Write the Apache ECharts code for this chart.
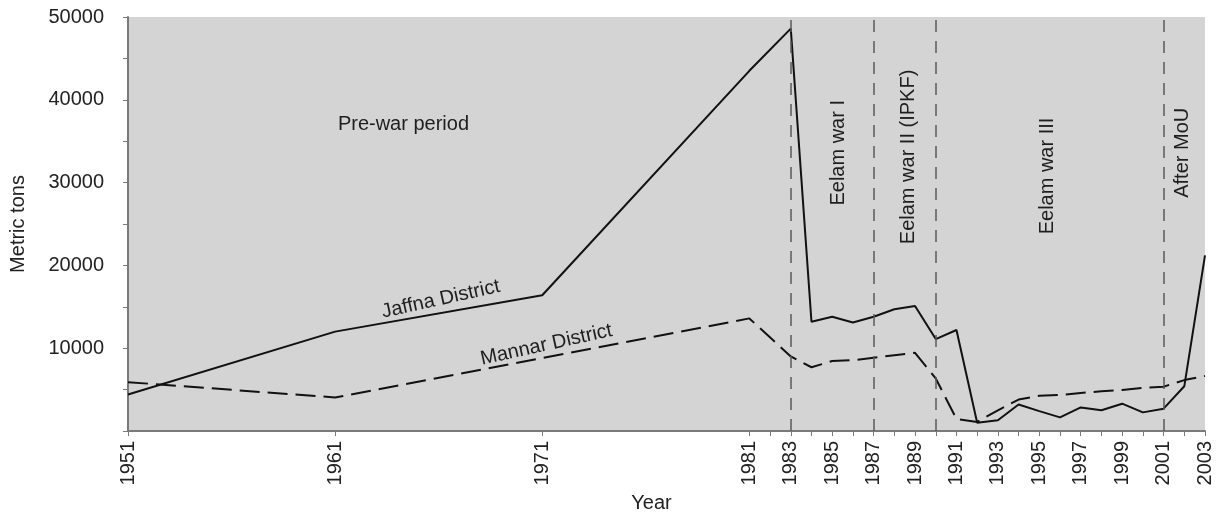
<!DOCTYPE html>
<html>
<head>
<meta charset="utf-8">
<script src="https://cdn.jsdelivr.net/npm/echarts@6/dist/echarts.min.js"></script>
<style>
  html, body { margin: 0; padding: 0; background: #fff; }
  #chart { width: 1223px; height: 512px; }
</style>
</head>
<body>
<div id="chart"></div>
<script>
// years with data
const years = [1951, 1961, 1971, 1981, 1983, 1984, 1985, 1986, 1987, 1988, 1989, 1990, 1991,
  1992, 1993, 1994, 1995, 1996, 1997, 1998, 1999, 2000, 2001, 2002, 2003]

// metric tons
const jaffna = [4400, 12000, 16400, 43500, 48600, 13200, 13800, 13100, 13800, 14700, 15100, 11100, 12200,
  1000, 1300, 3200, 2400, 1650, 2850, 2500, 3300, 2250, 2700, 5400, 21200]
const mannar = [5900, 4050, 8800, 13600, 9000, 7700, 8450, 8550, 8850, 9150, 9450, 6350, 1450,
  1100, 2500, 3800, 4250, 4350, 4600, 4800, 4950, 5200, 5350, 6150, 6650]

// x axis tick labels and tick marks
const yearLabels = [1951, 1961, 1971, 1981, 1983, 1985, 1987, 1989, 1991, 1993, 1995, 1997, 1999, 2001, 2003]
const yearTicks = [1951, 1961, 1971, 1981, 1982, 1983, 1984, 1985, 1986, 1987, 1988, 1989, 1990, 1991, 1992,
  1993, 1994, 1995, 1996, 1997, 1998, 1999, 2000, 2001, 2002, 2003]

// period boundaries (vertical dashed lines)
const boundaries = [1983, 1987, 1990, 2001]

// text notes: [year, value, text, rotation]
const periods = [
  [1964.3, 37000, 'Pre-war period', 0],
  [1985.3, 33600, 'Eelam war I', 90],
  [1988.7, 33100, 'Eelam war II (IPKF)', 90],
  [1995.4, 30800, 'Eelam war III', 90],
  [2001.9, 33600, 'After MoU', 90],
]
const seriesNotes = [
  [1966.1, 15900, 'Jaffna District', 12.5],
  [1971.2, 10400, 'Mannar District', 12.5],
]

const chart = echarts.init(document.getElementById('chart'))
const font = 'Liberation Sans, Arial, sans-serif'
const axisGray = '#7a7a7a'

const notePoints = periods.concat(seriesNotes).map(p => ({
  coord: [p[0], p[1]],
  symbol: 'circle',
  symbolSize: 1,
  itemStyle: { color: 'rgba(0,0,0,0)' },
  label: {
    show: true,
    position: 'inside',
    formatter: p[2],
    rotate: p[3],
    fontFamily: font,
    fontSize: 20,
    color: '#1e1e1e',
  },
}))

const option = {
  animation: false,
  grid: {
    left: 128,
    right: 18,
    top: 17,
    bottom: 81,
    outerBoundsMode: 'none',
    show: true,
    backgroundColor: '#d4d4d4',
    borderWidth: 0,
  },
  xAxis: {
    type: 'value',
    min: 1951,
    max: 2003,
    name: 'Year',
    nameLocation: 'middle',
    nameGap: 59,
    nameTextStyle: { fontFamily: font, fontSize: 20, color: '#222', padding: [0, 30, 0, 0] },
    axisLine: { show: true, onZero: false, lineStyle: { color: axisGray, width: 2 } },
    axisTick: { show: true, length: 5, customValues: yearTicks, lineStyle: { color: axisGray, width: 1 } },
    axisLabel: {
      customValues: yearLabels,
      rotate: 90,
      margin: 10,
      fontFamily: font,
      fontSize: 20,
      color: '#222',
      formatter: v => String(v),
    },
    splitLine: { show: false },
  },
  yAxis: {
    type: 'value',
    min: 0,
    max: 50000,
    interval: 5000,
    name: 'Metric tons',
    nameLocation: 'middle',
    nameGap: 100,
    nameTextStyle: { fontFamily: font, fontSize: 20, color: '#222' },
    axisLine: { show: true, lineStyle: { color: axisGray, width: 2 } },
    axisTick: { show: true, length: 5, lineStyle: { color: axisGray, width: 1 } },
    axisLabel: {
      margin: 24,
      fontFamily: font,
      fontSize: 20,
      color: '#222',
      formatter: v => (v > 0 && v % 10000 === 0 ? String(v) : ''),
    },
    splitLine: { show: false },
  },
  series: [
    {
      name: 'Jaffna District',
      type: 'line',
      data: years.map((y, i) => [y, jaffna[i]]),
      symbol: 'none',
      lineStyle: { color: '#111', width: 2 },
      z: 3,
      markLine: {
        silent: true,
        symbol: 'none',
        label: { show: false },
        lineStyle: { color: '#5a5a5a', width: 1.5, type: [12, 9] },
        data: boundaries.map(b => ({ xAxis: b })),
      },
      markPoint: {
        silent: true,
        data: notePoints,
      },
    },
    {
      name: 'Mannar District',
      type: 'line',
      data: years.map((y, i) => [y, mannar[i]]),
      symbol: 'none',
      lineStyle: { color: '#111', width: 2, type: [20, 8] },
      z: 3,
    },
  ],
}

chart.setOption(option)
</script>
</body>
</html>
